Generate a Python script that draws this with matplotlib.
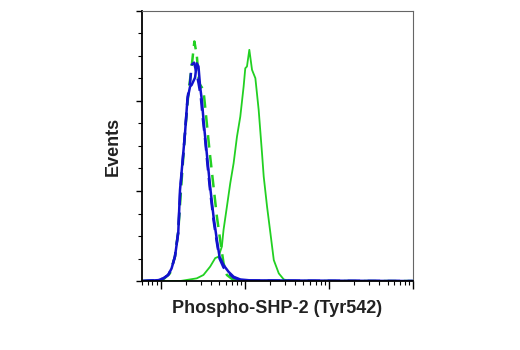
# Flow cytometry histogram: Phospho-SHP-2 (Tyr542) staining overlay

import matplotlib
matplotlib.use("Agg")
import matplotlib.pyplot as plt
from matplotlib.ticker import LogLocator, MultipleLocator, NullFormatter

# Fluorescence intensity / event counts for each histogram
treated_x = [59, 170, 269, 323, 388, 446, 488, 535, 560, 614, 673, 738, 809, 886,
             971, 1016, 1064, 1135, 1222, 1339, 1466, 1607, 1683, 1845, 2023,
             2218, 2543, 2917, 3507, 100000]
treated_y = [0, 0, 1.2, 2.7, 6.4, 10.2, 10.8, 15.3, 22.7, 33.0, 43.4, 52.3, 64.1,
             73.0, 86.4, 94.5, 95.3, 102.7, 93.8, 90.1, 76.0, 56.7, 46.4, 33.0,
             21.2, 9.3, 3.4, 0.7, 0, 0]

untreated_x = [59, 94, 108, 129, 148, 162, 178, 195, 214, 234, 252, 269, 287, 323,
               348, 381, 426, 467, 511, 560, 614, 738, 1000, 100000]
untreated_y = [0, 0.3, 0.8, 3.4, 10.8, 22.0, 44.9, 65.6, 83.4, 95.3, 106.4, 100.4,
               87.9, 84.9, 73.0, 58.2, 41.9, 28.6, 18.2, 7.9, 2.7, 0.4, 0, 0]

isotype_x = [59, 94, 108, 123, 135, 148, 162, 170, 195, 208, 224, 234, 257, 269,
             282, 295, 309, 329, 354, 388, 426, 467, 502, 560, 643, 738, 886, 1167,
             100000]
isotype_y = [0, 0.4, 1.2, 2.7, 5.6, 10.8, 21.2, 40.4, 65.6, 80.4, 86.4, 87.1, 90.4,
             96.7, 95.3, 86.4, 80.4, 68.6, 56.7, 41.9, 28.6, 18.2, 10.8, 7.1, 4.1,
             1.9, 0.7, 0.3, 0]

isotype2_x = [59, 94, 108, 123, 135, 148, 162, 172, 195, 210, 224, 234, 250, 265,
              282, 300, 318, 340, 360, 388, 426, 467, 502, 560, 643, 738, 886, 1167,
              100000]
isotype2_y = [0, 0.4, 1.2, 2.7, 5.6, 11, 22, 41, 66, 82, 88, 96, 97, 93, 88, 82,
              72, 62, 52, 40, 27, 17, 10, 6, 3.5, 1.5, 0.5, 0.2, 0]

green = "#22d022"
blue = "#1212cc"
label_font = ["Liberation Sans Narrow", "Liberation Sans", "DejaVu Sans"]

fig = plt.figure(figsize=(5.2, 3.5), dpi=100)
ax = fig.add_axes([0.273, 0.197, 0.521, 0.772])

ax.plot(treated_x, treated_y, color=green, lw=1.3)
ax.plot(untreated_x, untreated_y, color=green, lw=1.8, ls=(0, (5, 3)))
ax.plot(isotype2_x, isotype2_y, color=blue, lw=1.8, ls=(0, (5, 3)))
ax.plot(isotype_x, isotype_y, color=blue, lw=1.8)

ax.set_xscale("log")
ax.set_xlim(60, 100000)
ax.set_ylim(0, 120)

ax.xaxis.set_major_locator(LogLocator(base=10, numticks=10))
ax.xaxis.set_minor_locator(LogLocator(base=10, subs=range(2, 10), numticks=20))
ax.xaxis.set_major_formatter(NullFormatter())
ax.xaxis.set_minor_formatter(NullFormatter())
ax.yaxis.set_major_locator(MultipleLocator(40))
ax.yaxis.set_minor_locator(MultipleLocator(10))
ax.yaxis.set_major_formatter(NullFormatter())

ax.tick_params(which="major", direction="out", length=5.5, width=1.0, color="black")
ax.tick_params(which="minor", direction="out", length=3, width=0.8, color="black")
ax.tick_params(axis="y", which="major", length=4)
ax.tick_params(axis="y", which="minor", length=3)

for side in ["left", "bottom"]:
    ax.spines[side].set_linewidth(1.3)
    ax.spines[side].set_color("black")
for side in ["top", "right"]:
    ax.spines[side].set_linewidth(0.8)
    ax.spines[side].set_color("#666666")

ax.set_xlabel("Phospho-SHP-2 (Tyr542)", family=label_font, fontweight="bold",
              fontstretch="condensed", fontsize=13, color="#222222", labelpad=5)
ax.set_ylabel("Events", family=label_font, fontweight="bold",
              fontstretch="condensed", fontsize=13, color="#222222", labelpad=7)

fig.savefig("out.png", dpi=100)
